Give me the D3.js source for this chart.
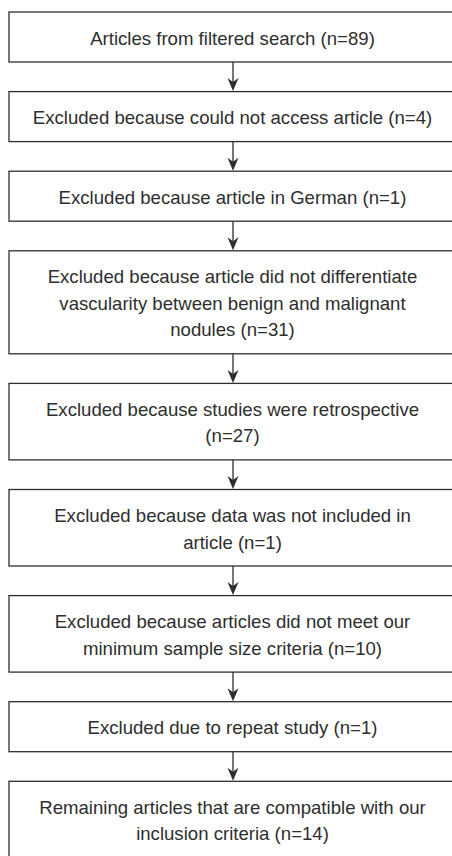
<!DOCTYPE html>
<html>
<head>
<meta charset="utf-8">
<script src="https://cdn.jsdelivr.net/npm/d3@7"></script>
<style>
  html, body { margin: 0; padding: 0; background: #fff; overflow: hidden; }
</style>
</head>
<body>
<script>
// ---- flow steps (text lines, count goes on the last line) ----
var stepLines = [
  ["Articles from filtered search"],
  ["Excluded because could not access article"],
  ["Excluded because article in German"],
  ["Excluded because article did not differentiate", "vascularity between benign and malignant", "nodules"],
  ["Excluded because studies were retrospective", ""],
  ["Excluded because data was not included in", "article"],
  ["Excluded because articles did not meet our", "minimum sample size criteria"],
  ["Excluded due to repeat study"],
  ["Remaining articles that are compatible with our", "inclusion criteria"]
];
var stepCounts = [89, 4, 1, 31, 27, 1, 10, 1, 14];

// ---- layout ----
var W = 452, H = 856;
var boxLeft = 9, boxRight = 456;   // right edge runs off the page like the original
var firstTop = 12, gap = 29.6;
var padY = 23.5, lineH = 26.5;
var ink = "#2e2e2e";

var steps = stepLines.map(function(lines, i) {
  var l = lines.slice();
  var last = l.length - 1;
  l[last] = (l[last] + " (n=" + stepCounts[i] + ")").trim();
  return { lines: l, count: stepCounts[i] };
});

// stack the boxes from top to bottom
var y = firstTop;
steps.forEach(function(s) {
  s.h = padY + lineH * s.lines.length;
  s.y0 = y;
  s.y1 = y + s.h;
  y = s.y1 + gap;
});

var cx = 232.5;

var svg = d3.select("body").append("svg")
  .attr("width", W)
  .attr("height", H);

// boxes
svg.selectAll("rect.box")
  .data(steps)
  .enter().append("rect")
  .attr("class", "box")
  .attr("x", boxLeft)
  .attr("y", function(d) { return d.y0; })
  .attr("width", boxRight - boxLeft)
  .attr("height", function(d) { return d.h; })
  .attr("fill", "none")
  .attr("stroke", ink)
  .attr("stroke-width", 1.3);

// text
var g = svg.selectAll("g.step")
  .data(steps)
  .enter().append("g")
  .attr("class", "step");

g.each(function(d) {
  var mid = (d.y0 + d.y1) / 2;
  var n = d.lines.length;
  d3.select(this).selectAll("text")
    .data(d.lines)
    .enter().append("text")
    .attr("x", cx)
    .attr("y", function(t, j) { return mid + 1 + (j - (n - 1) / 2) * lineH; })
    .attr("dy", "0.35em")
    .attr("text-anchor", "middle")
    .attr("font-family", "'Liberation Sans', Arial, Helvetica, sans-serif")
    .attr("font-size", "18.6px")
    .attr("fill", ink)
    .text(function(t) { return t; });
});

// arrows between boxes
var links = d3.pairs(steps);
var ax = 233;

svg.selectAll("line.link")
  .data(links)
  .enter().append("line")
  .attr("class", "link")
  .attr("x1", ax).attr("x2", ax)
  .attr("y1", function(p) { return p[0].y1; })
  .attr("y2", function(p) { return p[1].y0 - 6; })
  .attr("stroke", ink)
  .attr("stroke-width", 1.3);

svg.selectAll("path.head")
  .data(links)
  .enter().append("path")
  .attr("class", "head")
  .attr("d", function(p) {
    var t = p[1].y0 - 0.5;
    return "M" + ax + "," + t +
      "L" + (ax - 5.5) + "," + (t - 13) +
      "L" + ax + "," + (t - 9) +
      "L" + (ax + 5.5) + "," + (t - 13) + "Z";
  })
  .attr("fill", ink);
</script>
</body>
</html>
